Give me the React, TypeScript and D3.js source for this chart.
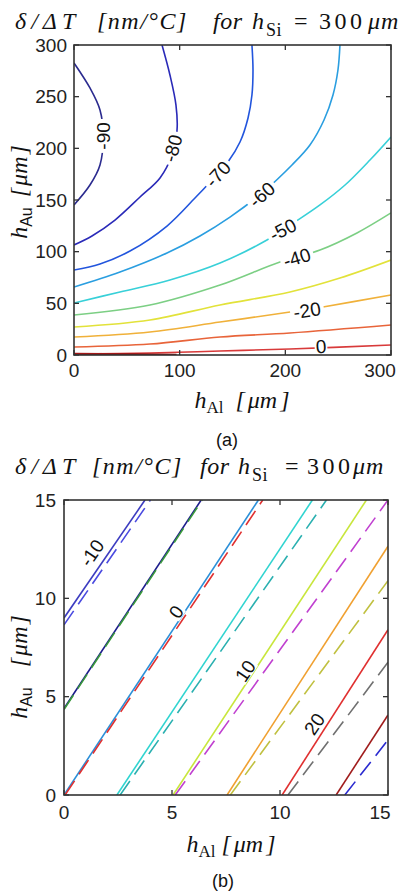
import React from "react";
import * as d3 from "d3";

const W = 398;
const H = 895;

// ---------------- Panel (a) data ----------------
const aXTicks = [0, 100, 200, 300];
const aYTicks = [0, 50, 100, 150, 200, 250, 300];
const aLevels = [-90, -80, -70, -60, -50, -40, -30, -20, -10, 0, 10];
const aColors = ["#2b2b8f", "#2a2ab8", "#2255dd", "#2a9ee0", "#38d0d8", "#7ccf84", "#e2e23a", "#f0b13a", "#e8643a", "#d83a3a", "#a01818"];

const aM90: [number, number][] = [[0, 282.6], [15.1, 258.4], [24.6, 237.1], [27.6, 212], [24.6, 183.9], [15.1, 164.5], [0, 145.2]];
const aM80: [number, number][] = [[83.3, 300], [90.8, 271.0], [96.5, 241.9], [97.5, 217.7], [92.7, 193.5], [81.4, 171.3], [62.5, 152.9], [38.8, 130.6], [17.0, 115.2], [0, 106.5]];
const aM70: [number, number][] = [[168.4, 300], [169.4, 275.8], [168.4, 251.6], [164.7, 229.4], [157.1, 206.1], [145.7, 186.8], [130.6, 169.4], [114.5, 151.9], [88.0, 124.8], [53.0, 100.6], [24.6, 88.1], [0, 82.3]];
const aM60: [number, number][] = [[251.7, 300], [249.8, 275.8], [245.1, 251.6], [236.6, 227.4], [223.3, 203.2], [206.3, 183.9], [177.9, 156.8], [147.6, 133.5], [119.2, 115.2], [88.0, 98.7], [43.5, 80.3], [0, 65.8]];
const aM50: [number, number][] = [[300, 211.0], [280.1, 188.7], [256.5, 164.5], [232.8, 145.2], [209.1, 128.7], [182.6, 111.3], [138.2, 89.0], [90.8, 72.6], [43.5, 61.0], [0, 50.3]];
const aM40: [number, number][] = [[300, 137.5], [267.8, 118.1], [232.8, 101.6], [194.9, 90.0], [138.2, 67.7], [71.9, 48.4], [0, 38.7]];
const aM30: [number, number][] = [[300, 91.9], [251.7, 74.5], [204.4, 61.0], [138.2, 48.4], [71.9, 33.9], [0, 27.1]];
const aM20: [number, number][] = [[300, 58.1], [235.6, 46.5], [204.4, 41.6], [138.2, 31.9], [71.9, 22.3], [0, 17.4]];
const aM10: [number, number][] = [[300, 29.0], [204.4, 21.3], [138.2, 17.4], [71.9, 10.6], [0, 7.7]];
const aZero: [number, number][] = [[300, 9.7], [204.4, 5.8], [138.2, 3.9], [71.9, 1.9], [0, 1.0]];
const aP10: [number, number][] = [[97, 0], [50, 0.6], [0, 0.9]];
const aContours = [aM90, aM80, aM70, aM60, aM50, aM40, aM30, aM20, aM10, aZero, aP10];

const aLabelText = ["-90", "-80", "-70", "-60", "-50", "-40", "-20", "0"];
const aLabelPos: [number, number][] = [[27.5, 212], [93.5, 200], [136.3, 175], [177.9, 155], [197.8, 121], [211.0, 94], [220.5, 43], [233.7, 8]];
const aLabelAngle = [-90, -75, -47, -42, -27, -17, -9, -4];

// ---------------- Panel (b) data ----------------
const bXTicks = [0, 5, 10, 15];
const bYTicks = [0, 5, 10, 15];
const bLevels = [-10, -5, 0, 5, 10, 15, 20, 25];
const bSolidColors = ["#3c3cc0", "#1c1c8c", "#2a8fd8", "#30d4d0", "#c8e63c", "#f0a030", "#e03030", "#a01c1c"];
const bDashColors = ["#4a4ae0", "#3a9a3a", "#e03030", "#2ab0b0", "#c040d0", "#c0c040", "#707070", "#2a2ad0"];
const bSolid: [number, number][][] = [
  [[0, 9.0], [3.75, 15]],
  [[0, 4.4], [6.35, 15]],
  [[0, 0], [9.0, 15]],
  [[2.45, 0], [11.5, 15]],
  [[5.05, 0], [14.0, 15]],
  [[7.55, 0], [15, 12.65]],
  [[10.1, 0], [15, 8.4]],
  [[12.6, 0], [15, 4.07]],
];
const bDashed: [number, number][][] = [
  [[0, 8.65], [4.0, 15]],
  [[0, 4.35], [6.4, 15]],
  [[0.05, 0], [9.2, 15]],
  [[2.6, 0], [12.15, 15]],
  [[5.15, 0], [15, 15]],
  [[7.7, 0], [15, 10.9]],
  [[10.37, 0], [15, 6.75]],
  [[13.0, 0], [15, 2.8]],
];
const bLabelText = ["-10", "0", "10", "20"];
const bLabelPos: [number, number][] = [[1.3, 12.3], [5.2, 9.3], [8.4, 6.3], [11.6, 3.6]];
const bLabelAngle = [-56, -56, -56, -56];

// title pieces
const titlePieces = ["δ/ΔT", "[nm/°C]", "for", "h", "Si", "=", "300", "μm"];
const titleItalic = [true, true, true, true, false, false, false, true];
const titleAX = [15, 97, 213, 252, 266, 294, 319, 368];
const titleBX = [15, 92, 200, 238, 252, 285, 307, 353];
const titleSpacing = [5, 1.5, 0.5, 0, 0.5, 0, 3.5, 1];

const SANS = "'Liberation Sans', Arial, sans-serif";
const SERIF = "'Liberation Serif', 'Times New Roman', serif";
const TICK = 5;

function Title({ xs, y }: { xs: number[]; y: number }) {
  return (
    <g fontFamily={SERIF} fill="#111" fontWeight="normal">
      {titlePieces.map((p, i) => (
        <text
          key={i}
          x={xs[i]}
          y={i === 4 ? y + 7 : y}
          fontSize={i === 4 ? 18 : 24}
          fontStyle={titleItalic[i] ? "italic" : "normal"}
          letterSpacing={titleSpacing[i]}
        >
          {p}
        </text>
      ))}
    </g>
  );
}

function Frame({ sx, sy, xTicks, yTicks, xLabelY, yLabelX }: any) {
  const [x0, x1] = sx.range();
  const [y0, y1] = sy.range();
  return (
    <g>
      <rect x={x0} y={y1} width={x1 - x0} height={y0 - y1} fill="none" stroke="#333" strokeWidth={1.6} />
      {xTicks.map((t: number) => {
        const tx = Math.min(sx(t), W - 18);
        return (
          <g key={"x" + t}>
            <line x1={sx(t)} x2={sx(t)} y1={y0} y2={y0 - TICK} stroke="#333" strokeWidth={1.3} />
            <line x1={sx(t)} x2={sx(t)} y1={y1} y2={y1 + TICK} stroke="#333" strokeWidth={1.3} />
            <text x={tx} y={xLabelY} textAnchor="middle" dominantBaseline="central" fontFamily={SANS} fontSize={19} fill="#222">
              {t}
            </text>
          </g>
        );
      })}
      {yTicks.map((t: number) => (
        <g key={"y" + t}>
          <line x1={x0} x2={x0 + TICK} y1={sy(t)} y2={sy(t)} stroke="#333" strokeWidth={1.3} />
          <line x1={x1} x2={x1 - TICK} y1={sy(t)} y2={sy(t)} stroke="#333" strokeWidth={1.3} />
          <text x={yLabelX} y={sy(t)} textAnchor="end" dominantBaseline="central" fontFamily={SANS} fontSize={19} fill="#222">
            {t}
          </text>
        </g>
      ))}
    </g>
  );
}

function Label({ x, y, angle, text, fs }: { x: number; y: number; angle: number; text: string; fs: number }) {
  const w = text.length * 0.56 * fs + 2;
  const h = fs * 0.78;
  return (
    <g transform={`translate(${x},${y}) rotate(${angle})`}>
      <rect x={-w / 2} y={-h / 2} width={w} height={h} fill="#fff" />
      <text x={0} y={0} textAnchor="middle" dominantBaseline="central" fontFamily={SANS} fontSize={fs} fill="#111">
        {text}
      </text>
    </g>
  );
}

function YAxisLabel({ x, y, gap }: { x: number; y: number; gap: number }) {
  return (
    <text transform={`translate(${x},${y}) rotate(-90)`} textAnchor="middle" fontFamily={SERIF} fontSize={24} fill="#111">
      <tspan fontStyle="italic">h</tspan>
      <tspan fontFamily={SANS} fontSize={16} dy={5}>Au</tspan>
      <tspan dy={-5} dx={gap} fontStyle="italic">[</tspan>
      <tspan fontStyle="italic" dx={2}>μm</tspan>
      <tspan fontStyle="italic" dx={2}>]</tspan>
    </text>
  );
}

function XAxisLabel({ x, y, gap }: { x: number; y: number; gap: number }) {
  return (
    <text x={x} y={y} textAnchor="middle" fontFamily={SERIF} fontSize={24} fill="#111">
      <tspan fontStyle="italic">h</tspan>
      <tspan fontSize={17} dy={5}>Al</tspan>
      <tspan dy={-5} dx={gap} fontStyle="italic">[</tspan>
      <tspan fontStyle="italic" dx={3}>μm</tspan>
      <tspan fontStyle="italic" dx={3}>]</tspan>
    </text>
  );
}

export default function App() {
  const aX = d3.scaleLinear().domain([0, 300]).range([74, 391]);
  const aY = d3.scaleLinear().domain([0, 300]).range([355, 45]);
  const bX = d3.scaleLinear().domain([0, 15]).range([64, 388]);
  const bY = d3.scaleLinear().domain([0, 15]).range([795, 500]);

  const aLine = d3
    .line<[number, number]>()
    .x((d) => aX(d[0]))
    .y((d) => aY(d[1]))
    .curve(d3.curveCatmullRom.alpha(0.5));
  const bLine = d3
    .line<[number, number]>()
    .x((d) => bX(d[0]))
    .y((d) => bY(d[1]));

  return (
    <svg width={W} height={H} style={{ position: "absolute", left: 0, top: 0, background: "#fff" }}>
      <defs>
        <clipPath id="clipA">
          <rect x={74} y={45} width={317} height={310} />
        </clipPath>
        <clipPath id="clipB">
          <rect x={64} y={500} width={324} height={295} />
        </clipPath>
      </defs>
      <rect x={0} y={0} width={W} height={H} fill="#fff" />

      {/* Panel (a) */}
      <Title xs={titleAX} y={29} />
      <g clipPath="url(#clipA)">
        {aContours.map((pts, i) => (
          <path key={aLevels[i]} d={aLine(pts) || ""} fill="none" stroke={aColors[i]} strokeWidth={i === 10 ? 2.6 : 1.6} />
        ))}
        {aLabelText.map((t, i) => (
          <Label key={t} x={aX(aLabelPos[i][0])} y={aY(aLabelPos[i][1])} angle={aLabelAngle[i]} text={t} fs={19} />
        ))}
      </g>
      <Frame sx={aX} sy={aY} xTicks={aXTicks} yTicks={aYTicks} xLabelY={370} yLabelX={67} />
      <YAxisLabel x={27} y={192} gap={10} />
      <XAxisLabel x={242} y={408} gap={12} />
      <text x={227} y={446} textAnchor="middle" fontFamily={SANS} fontSize={18} fill="#111">(a)</text>

      {/* Panel (b) */}
      <Title xs={titleBX} y={474} />
      <g clipPath="url(#clipB)">
        {bSolid.map((pts, i) => (
          <path key={"s" + bLevels[i]} d={bLine(pts) || ""} fill="none" stroke={bSolidColors[i]} strokeWidth={1.6} />
        ))}
        {bDashed.map((pts, i) => (
          <path key={"d" + bLevels[i]} d={bLine(pts) || ""} fill="none" stroke={bDashColors[i]} strokeWidth={1.6} strokeDasharray="17 8" />
        ))}
        {bLabelText.map((t, i) => (
          <Label key={t} x={bX(bLabelPos[i][0])} y={bY(bLabelPos[i][1])} angle={bLabelAngle[i]} text={t} fs={19} />
        ))}
      </g>
      <Frame sx={bX} sy={bY} xTicks={bXTicks} yTicks={bYTicks} xLabelY={812} yLabelX={56} />
      <YAxisLabel x={27} y={667} gap={20} />
      <XAxisLabel x={231} y={852} gap={6} />
      <text x={223} y={887} textAnchor="middle" fontFamily={SANS} fontSize={18} fill="#111">(b)</text>
    </svg>
  );
}
